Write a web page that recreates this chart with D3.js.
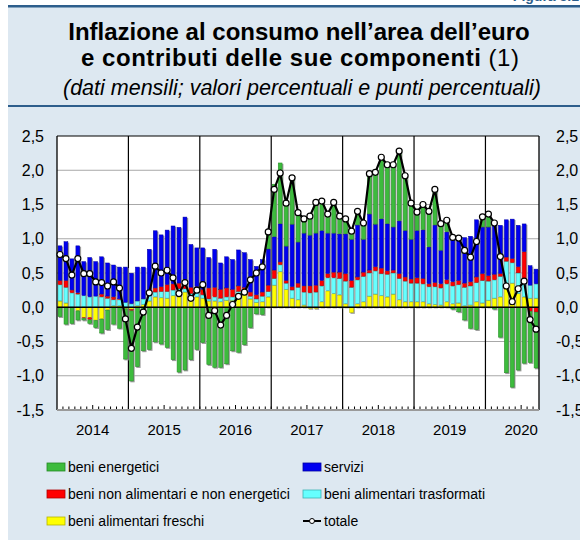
<!DOCTYPE html>
<html>
<head>
<meta charset="utf-8">
<script src="https://d3js.org/d3.v7.min.js"></script>
<style>
  body { margin: 0; background: #fff; }
  text { font-family: "Liberation Sans", Arial, sans-serif; }
</style>
</head>
<body>
<svg id="chart" width="580" height="540"></svg>
<script>
// anni sull'asse, dati mensili da gen 2014 a set 2020
const anni = ['2014', '2015', '2016', '2017', '2018', '2019', '2020'];
const yTicks = [-1.5, -1.0, -0.5, 0.0, 0.5, 1.0, 1.5, 2.0, 2.5];

const freschi = [
  0.09, 0.06, 0.00, -0.05, -0.15, -0.15, -0.19, -0.17, -0.04, 0.02, 0.02, -0.02,
  -0.03, 0.02, 0.04, 0.09, 0.15, 0.14, 0.13, 0.17, 0.20, 0.22, 0.15, 0.15,
  0.13, 0.09, 0.09, 0.08, 0.10, 0.10, 0.17, 0.18, 0.12, 0.07, 0.08, 0.15,
  0.32, 0.52, 0.26, 0.13, 0.11, 0.03, -0.02, -0.02, 0.08, 0.24, 0.20, 0.18,
  0.05, -0.08, 0.05, 0.08, 0.16, 0.19, 0.17, 0.15, 0.19, 0.11, 0.08, 0.08,
  0.08, 0.08, 0.05, 0.04, 0.03, 0.08, 0.05, 0.06, 0.02, 0.03, 0.08, 0.06,
  0.10, 0.13, 0.15, 0.35, 0.35, 0.20, 0.15, 0.13, 0.13
];
const trasformati = [
  0.24, 0.23, 0.21, 0.19, 0.17, 0.15, 0.16, 0.15, 0.13, 0.09, 0.09, 0.07,
  0.05, 0.07, 0.08, 0.13, 0.07, 0.09, 0.10, 0.08, 0.07, 0.05, 0.05, 0.06,
  0.05, 0.03, 0.06, 0.05, 0.05, 0.05, 0.06, 0.05, 0.04, 0.05, 0.08, 0.08,
  0.10, 0.10, 0.09, 0.12, 0.18, 0.19, 0.21, 0.22, 0.23, 0.19, 0.23, 0.24,
  0.33, 0.29, 0.35, 0.37, 0.34, 0.34, 0.32, 0.33, 0.31, 0.31, 0.30, 0.27,
  0.27, 0.26, 0.25, 0.26, 0.25, 0.26, 0.26, 0.27, 0.27, 0.28, 0.28, 0.33,
  0.28, 0.27, 0.30, 0.32, 0.30, 0.30, 0.27, 0.19, 0.21
];
const nonAlimentari = [
  0.06, 0.10, 0.04, 0.02, -0.01, -0.03, 0.00, 0.04, 0.03, 0.04, 0.01, 0.00,
  -0.02, 0.00, 0.00, 0.00, 0.06, 0.07, 0.10, 0.09, 0.08, 0.13, 0.09, 0.09,
  0.08, 0.16, 0.14, 0.13, 0.13, 0.11, 0.08, 0.06, 0.06, 0.06, 0.06, 0.09,
  0.12, 0.04, 0.04, 0.05, 0.06, 0.09, 0.10, 0.10, 0.08, 0.06, 0.08, 0.09,
  0.11, 0.10, 0.04, 0.06, 0.04, 0.06, 0.08, 0.05, 0.04, 0.07, 0.06, 0.06,
  0.08, 0.08, 0.04, 0.06, 0.06, 0.06, 0.06, 0.06, 0.06, 0.06, 0.08, 0.10,
  0.08, 0.08, 0.04, 0.06, 0.06, 0.09, 0.39, -0.06, -0.07
];
const servizi = [
  0.51, 0.57, 0.46, 0.69, 0.50, 0.58, 0.51, 0.55, 0.49, 0.47, 0.47, 0.52,
  0.45, 0.50, 0.47, 0.63, 0.84, 0.76, 0.80, 0.85, 0.82, 0.92, 0.63, 0.57,
  0.61, 0.45, 0.56, 0.39, 0.46, 0.44, 0.53, 0.51, 0.48, 0.42, 0.48, 0.53,
  0.49, 0.56, 0.50, 0.91, 0.60, 0.77, 0.74, 0.76, 0.73, 0.59, 0.57, 0.56,
  0.58, 0.60, 0.76, 0.48, 0.82, 0.62, 0.72, 0.69, 0.63, 0.77, 0.68, 0.58,
  0.69, 0.71, 0.54, 0.84, 0.49, 0.70, 0.68, 0.64, 0.67, 0.67, 0.84, 0.68,
  0.71, 0.74, 0.71, 0.55, 0.58, 0.61, 0.41, 0.29, 0.22
];
const energetici = [
  -0.14, -0.25, -0.24, -0.14, -0.03, -0.06, -0.11, -0.21, -0.29, -0.25, -0.31, -0.74,
  -1.03, -0.87, -0.64, -0.62, -0.51, -0.54, -0.59, -0.77, -0.95, -0.92, -0.77, -0.62,
  -0.52, -0.84, -0.88, -0.88, -0.83, -0.64, -0.66, -0.55, -0.30, -0.10, -0.11, 0.25,
  0.77, 0.89, 0.64, 0.72, 0.44, 0.21, 0.28, 0.45, 0.43, 0.28, 0.45, 0.26,
  0.22, 0.12, 0.20, 0.24, 0.59, 0.76, 0.90, 0.86, 0.91, 1.02, 0.80, 0.53,
  0.27, 0.37, 0.52, 0.52, 0.39, 0.17, -0.03, -0.07, -0.19, -0.31, -0.33, 0.16,
  0.20, -0.03, -0.44, -0.96, -1.17, -0.92, -0.82, -0.75, -0.82
];
const totale = [
  0.77, 0.71, 0.47, 0.71, 0.49, 0.49, 0.37, 0.36, 0.31, 0.37, 0.28, -0.17,
  -0.60, -0.29, -0.07, 0.21, 0.60, 0.50, 0.54, 0.43, 0.20, 0.36, 0.13, 0.25,
  0.33, -0.12, -0.05, -0.26, -0.12, 0.04, 0.16, 0.22, 0.40, 0.50, 0.59, 1.10,
  1.72, 1.96, 1.52, 1.89, 1.38, 1.29, 1.33, 1.53, 1.55, 1.36, 1.53, 1.33,
  1.29, 1.11, 1.40, 1.23, 1.95, 1.97, 2.19, 2.08, 2.08, 2.28, 1.92, 1.52,
  1.39, 1.50, 1.40, 1.72, 1.22, 1.27, 1.02, 1.01, 0.83, 0.73, 0.96, 1.32,
  1.36, 1.23, 0.74, 0.31, 0.08, 0.27, 0.38, -0.18, -0.32
];

const serie = [
  { key: 'freschi', label: 'beni alimentari freschi', fill: '#ffff00', stroke: '#b5b500', values: freschi },
  { key: 'trasformati', label: 'beni alimentari trasformati', fill: '#66ffff', stroke: '#3cb5b5', values: trasformati },
  { key: 'nonAlimentari', label: 'beni non alimentari e non energetici', fill: '#ff0000', stroke: '#b00000', values: nonAlimentari },
  { key: 'servizi', label: 'servizi', fill: '#0000f0', stroke: '#0000a0', values: servizi },
  { key: 'energetici', label: 'beni energetici', fill: '#3dbb3d', stroke: '#238a23', values: energetici }
];

const svg = d3.select('#chart');
const W = 580, H = 540;
const margin = { left: 57, right: 41, top: 136, bottom: 130 };
const plotW = W - margin.left - margin.right;
const plotH = H - margin.top - margin.bottom;

const mesi = anni.flatMap(a => d3.range(12).map(m => a + '-' + (m + 1))).slice(0, totale.length);
const rows = mesi.map((m, i) => {
  const r = { mese: m, tot: totale[i] };
  serie.forEach(s => r[s.key] = s.values[i]);
  return r;
});

// pannello azzurro
svg.append('rect').attr('x', 8).attr('y', 7).attr('width', W - 8).attr('height', H - 7).attr('fill', '#dde8f1');
svg.append('rect').attr('x', 8).attr('y', 5).attr('width', W - 8).attr('height', 2.5).attr('fill', '#2d5e8c');
svg.append('rect').attr('x', 8).attr('y', 105).attr('width', W - 8).attr('height', 2).attr('fill', '#2d5e8c');
svg.append('text').attr('x', 579).attr('y', 1).attr('text-anchor', 'end')
  .attr('font-size', 14).attr('font-weight', 'bold').attr('fill', '#2d5e8c').text('Figura 3.1');

// titolo
const title = svg.append('g').attr('text-anchor', 'middle');
title.append('text').attr('x', 299).attr('y', 40).attr('font-size', 24).attr('font-weight', 'bold')
  .text('Inflazione al consumo nell\u2019area dell\u2019euro');
const t2 = title.append('text').attr('x', 300).attr('y', 66).attr('font-size', 24)
  .attr('textLength', 438).attr('lengthAdjust', 'spacing');
t2.append('tspan').attr('font-weight', 'bold').text('e contributi delle sue componenti ');
t2.append('tspan').text('(1)');
title.append('text').attr('x', 302).attr('y', 95).attr('font-size', 21.5).attr('font-style', 'italic')
  .text('(dati mensili; valori percentuali e punti percentuali)');

// scale
const x = d3.scaleBand().domain(mesi).range([margin.left, margin.left + plotW]).paddingInner(0.27).paddingOuter(0.135);
const xl = d3.scaleLinear().domain([0, mesi.length]).range([margin.left, margin.left + plotW]);
const y = d3.scaleLinear().domain([-1.5, 2.5]).range([margin.top + plotH, margin.top]);

svg.append('rect').attr('x', margin.left).attr('y', margin.top).attr('width', plotW).attr('height', plotH).attr('fill', '#fff');

// griglia
svg.append('g').selectAll('line').data(yTicks.filter(v => v !== 0 && v !== -1.5 && v !== 2.5)).join('line')
  .attr('x1', margin.left).attr('x2', margin.left + plotW)
  .attr('y1', d => y(d)).attr('y2', d => y(d))
  .attr('stroke', '#a8a8a8').attr('stroke-width', 1);

// separatori anni
svg.append('g').selectAll('line').data(d3.range(1, anni.length)).join('line')
  .attr('x1', d => xl(d * 12)).attr('x2', d => xl(d * 12))
  .attr('y1', margin.top).attr('y2', margin.top + plotH)
  .attr('stroke', '#000').attr('stroke-width', 1.2);

// stack
const stack = d3.stack().keys(serie.map(s => s.key)).offset(d3.stackOffsetDiverging);
const stacked = stack(rows);

// ombre
const ext = rows.map((r, i) => ({
  mese: r.mese,
  lo: d3.min(stacked, s => s[i][0]),
  hi: d3.max(stacked, s => s[i][1])
}));
svg.append('g').selectAll('rect').data(ext).join('rect')
  .attr('x', d => x(d.mese) + 1.1).attr('y', d => y(d.hi) + 1.1)
  .attr('width', x.bandwidth()).attr('height', d => y(d.lo) - y(d.hi))
  .attr('fill', '#9c9c9c');

svg.append('g').selectAll('g').data(stacked).join('g')
  .attr('fill', (d, i) => serie[i].fill)
  .attr('stroke', (d, i) => serie[i].stroke)
  .attr('stroke-width', 0.5)
  .selectAll('rect').data(d => d.filter(p => p[1] !== p[0])).join('rect')
  .attr('x', d => x(d.data.mese) + 0.25)
  .attr('y', d => y(Math.max(d[0], d[1])) + 0.25)
  .attr('width', x.bandwidth() - 0.5)
  .attr('height', d => Math.max(0, Math.abs(y(d[0]) - y(d[1])) - 0.5));

// linea dello zero
svg.append('line').attr('x1', margin.left).attr('x2', margin.left + plotW)
  .attr('y1', y(0)).attr('y2', y(0)).attr('stroke', '#000').attr('stroke-width', 1.3);

// cornice
svg.append('line').attr('x1', margin.left).attr('x2', margin.left + plotW).attr('y1', margin.top).attr('y2', margin.top).attr('stroke', '#000').attr('stroke-width', 1.2);
svg.append('line').attr('x1', margin.left).attr('x2', margin.left).attr('y1', margin.top).attr('y2', margin.top + plotH).attr('stroke', '#000').attr('stroke-width', 1.3);
svg.append('line').attr('x1', margin.left + plotW).attr('x2', margin.left + plotW).attr('y1', margin.top).attr('y2', margin.top + plotH).attr('stroke', '#000').attr('stroke-width', 1.3);
svg.append('line').attr('x1', margin.left).attr('x2', margin.left + plotW).attr('y1', margin.top + plotH).attr('y2', margin.top + plotH).attr('stroke', '#9a9a9a').attr('stroke-width', 2);

// tacche mensili
svg.append('g').selectAll('line').data(d3.range(1, mesi.length)).join('line')
  .attr('x1', d => xl(d)).attr('x2', d => xl(d))
  .attr('y1', d => margin.top + plotH - (d % 12 === 6 ? 5 : 3.5)).attr('y2', margin.top + plotH - 1)
  .attr('stroke', '#000').attr('stroke-width', 1);

// etichette y
const fmt = v => d3.format('.1f')(v).replace('.', ',').replace('\u2212', '-');
svg.append('g').selectAll('text').data(yTicks).join('text')
  .attr('x', 44).attr('y', d => y(d) + 5.5).attr('text-anchor', 'end').attr('font-size', 16)
  .text(fmt);
svg.append('g').selectAll('text').data(yTicks).join('text')
  .attr('x', 556).attr('y', d => y(d) + 5.5).attr('text-anchor', 'start').attr('font-size', 16)
  .text(fmt);

// etichette anni
svg.append('g').selectAll('text').data(anni).join('text')
  .attr('x', (d, i) => xl(i * 12 + 6)).attr('y', 435).attr('text-anchor', 'middle').attr('font-size', 15)
  .text(d => d);

// totale
const line = d3.line().x(d => x(d.mese) + x.bandwidth() / 2).y(d => y(d.tot));
svg.append('path').datum(rows).attr('d', line).attr('fill', 'none').attr('stroke', '#000').attr('stroke-width', 2.2);
svg.append('g').selectAll('circle').data(rows).join('circle')
  .attr('cx', d => x(d.mese) + x.bandwidth() / 2).attr('cy', d => y(d.tot)).attr('r', 3)
  .attr('fill', '#fff').attr('stroke', '#000').attr('stroke-width', 1.2);

// legenda
const leg = [
  { s: serie[4], x: 47, y: 467 },
  { s: serie[3], x: 303, y: 467 },
  { s: serie[2], x: 47, y: 494 },
  { s: serie[1], x: 303, y: 494 },
  { s: serie[0], x: 47, y: 521 }
];
const lg = svg.append('g');
leg.forEach(l => {
  lg.append('rect').attr('x', l.x).attr('y', l.y - 4).attr('width', 18).attr('height', 8)
    .attr('fill', l.s.fill).attr('stroke', l.s.stroke).attr('stroke-width', 0.8);
  lg.append('text').attr('x', l.x + 21).attr('y', l.y + 5).attr('font-size', 14).text(l.s.label);
});
lg.append('line').attr('x1', 303).attr('x2', 321).attr('y1', 521).attr('y2', 521).attr('stroke', '#000').attr('stroke-width', 2);
lg.append('circle').attr('cx', 312).attr('cy', 521).attr('r', 2.5).attr('fill', '#fff').attr('stroke', '#000').attr('stroke-width', 1);
lg.append('text').attr('x', 324).attr('y', 526).attr('font-size', 14).text('totale');
</script>
</body>
</html>
